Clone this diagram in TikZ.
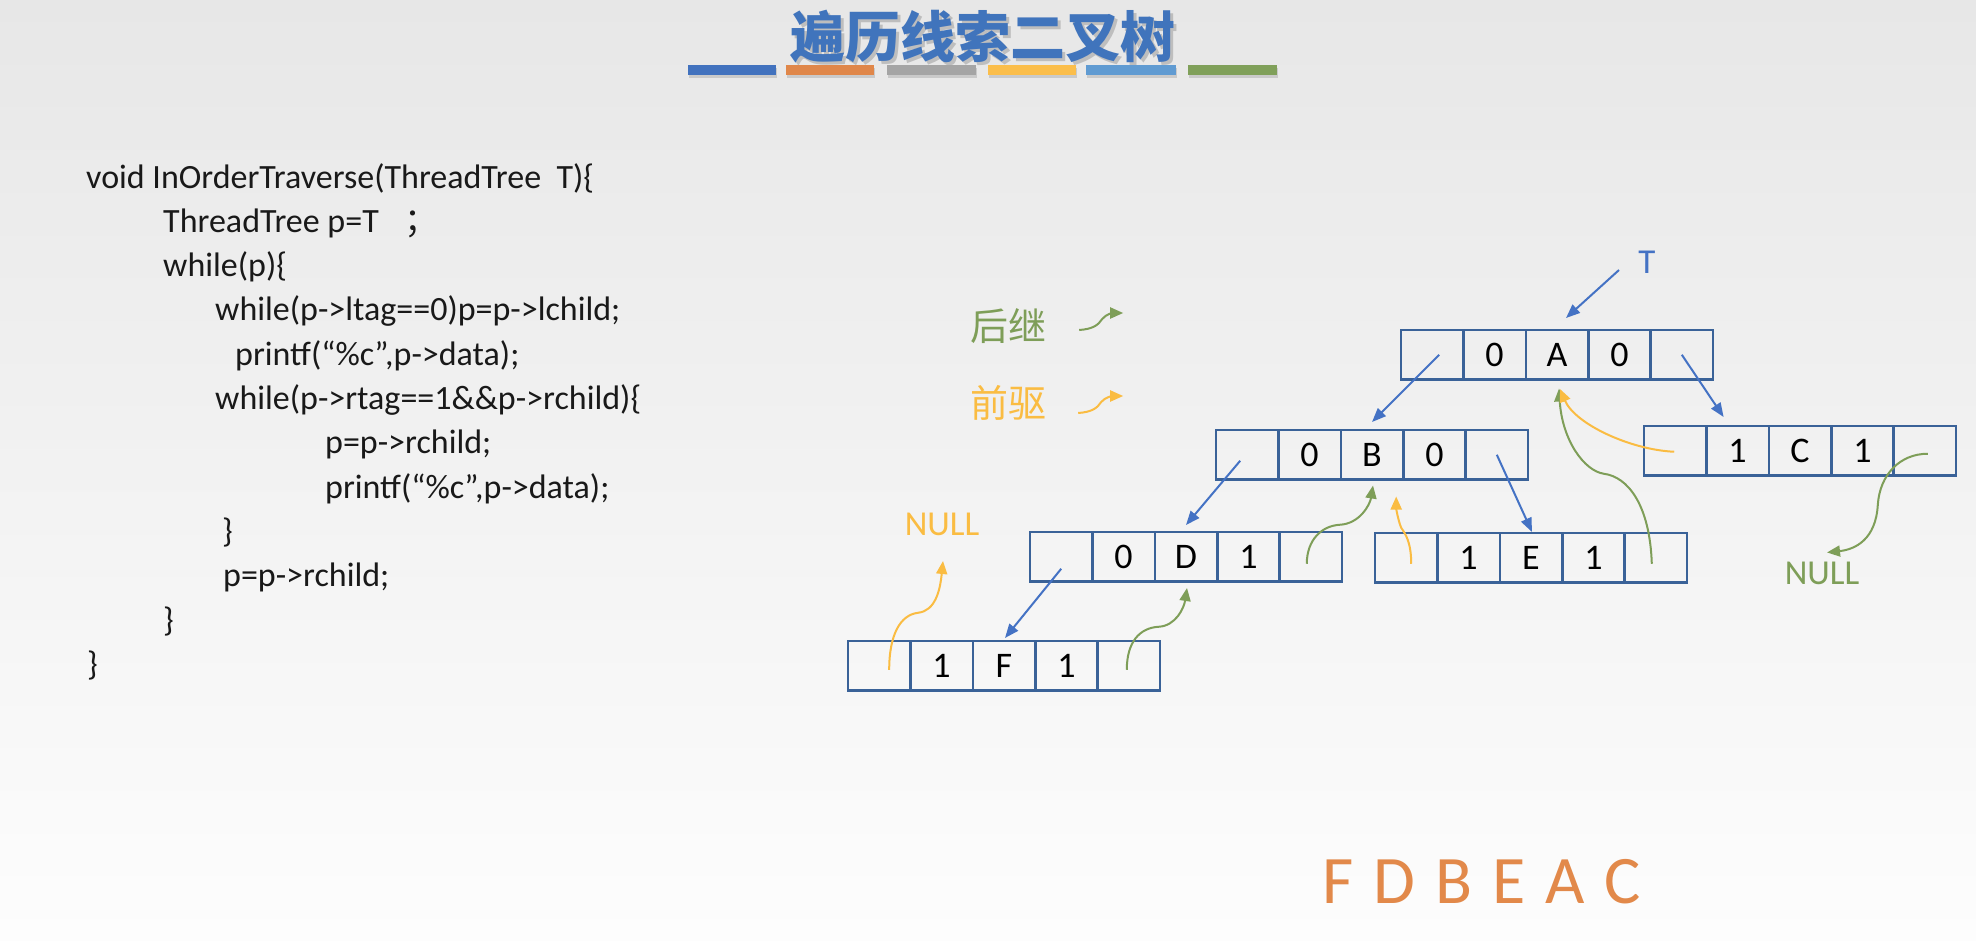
\documentclass[tikz,border=0pt]{standalone}
\usepackage{fontspec}
\setmainfont{Carlito}
\newfontfamily\cjk{Noto Sans CJK SC}
\usetikzlibrary{arrows.meta,calc}

\definecolor{titleblue}{RGB}{64,116,188}
\definecolor{boxblue}{RGB}{58,98,152}
\definecolor{arrblue}{RGB}{68,114,196}
\definecolor{sgreen}{RGB}{126,158,88}
\definecolor{pyellow}{RGB}{250,188,66}
\definecolor{orderorange}{RGB}{226,137,74}
\definecolor{codeblack}{RGB}{25,25,25}
\definecolor{bgtop}{RGB}{231,231,231}
\definecolor{bgmid}{RGB}{242,242,242}
\definecolor{bgbot}{RGB}{253,253,253}
\definecolor{barblue}{RGB}{66,114,190}
\definecolor{barorange}{RGB}{224,135,74}
\definecolor{bargray}{RGB}{165,165,165}
\definecolor{baryellow}{RGB}{251,190,75}
\definecolor{barlight}{RGB}{96,155,210}
\definecolor{bargreen}{RGB}{128,160,90}

\newcommand{\titlefnt}{\cjk\bfseries\fontsize{55}{60}\selectfont}

% one threaded-tree record: lchild | ltag | data | rtag | rchild
\newcommand{\mkrecord}[6]{%
  \node[cell,anchor=north west] (#1-1) at (#2,#3) {};
  \node[cell,anchor=west] (#1-2) at (#1-1.east) {#4};
  \node[cell,anchor=west] (#1-3) at (#1-2.east) {#5};
  \node[cell,anchor=west] (#1-4) at (#1-3.east) {#6};
  \node[cell,anchor=west] (#1-5) at (#1-4.east) {};
}

\begin{document}
\begin{tikzpicture}[x=1pt,y=-1pt,
  cell/.style={draw=boxblue,line width=2.6pt,minimum width=62.4pt,minimum height=49.5pt,
    inner sep=0pt,outer sep=0pt,text=black,font=\fontsize{36}{40}\selectfont},
  code/.style={anchor=base west,inner sep=0pt,text=codeblack,font=\fontsize{34}{40}\selectfont},
  lbl/.style={inner sep=0pt,font=\fontsize{35}{40}\selectfont},
  legend/.style={inner sep=0pt,font=\cjk\fontsize{38}{42}\selectfont},
  bluearr/.style={draw=arrblue,line width=2pt,-{Triangle[length=14pt,width=11pt]}},
  succ/.style={draw=sgreen,line width=2pt,-{Triangle[length=13pt,width=11pt]}},
  pred/.style={draw=pyellow,line width=2pt,-{Triangle[length=13pt,width=11pt]}},
  barshadow/.style={fill=black,opacity=.13}
]
\useasboundingbox (0,0) rectangle (1976,940);
\shade[top color=bgtop,bottom color=bgbot,middle color=bgmid] (0,0) rectangle (1976,940);

% heading
\node[text=black,opacity=.18,font=\titlefnt] (titleshadow) at (985.5,39.5) {遍历线索二叉树};
\node[text=titleblue,font=\titlefnt] (title) at (983,37) {遍历线索二叉树};

% colour bars under the heading
\foreach \xa/\xb/\c in {688/776/barblue,786/874/barorange,887/976/bargray,
                        988/1076/baryellow,1086/1176/barlight,1188/1277/bargreen}{
  \fill[barshadow] (\xa+1,68) rectangle (\xb+1,78);
  \fill[\c] (\xa,65) rectangle (\xb,75);
}

% source code
\node[code] (c1)  at (86,188)    {void InOrderTraverse(ThreadTree\ \ T)\{};
\node[code] (c2)  at (163,232.3) {ThreadTree p=T\hspace{26pt}{\cjk ；}};
\node[code] (c3)  at (163,276.6) {while(p)\{};
\node[code] (c4)  at (215,320.9) {while(p->ltag==0)p=p->lchild;};
\node[code] (c5)  at (235,365.2) {printf(“\%c”,p->data);};
\node[code] (c6)  at (215,409.5) {while(p->rtag==1\&\&p->rchild)\{};
\node[code] (c7)  at (325,453.8) {p=p->rchild;};
\node[code] (c8)  at (325,498.1) {printf(“\%c”,p->data);};
\node[code] (c9)  at (222,542.4) {\}};
\node[code] (c10) at (223,586.7) {p=p->rchild;};
\node[code] (c11) at (163,631)   {\}};
\node[code] (c12) at (87,675.3)  {\}};

% legend
\node[legend,text=sgreen]  (lg) at (1008,326) {后继};
\node[legend,text=pyellow] (ly) at (1008,403) {前驱};
\draw[succ] ($(lg.east)+(33,4)$) .. controls +(14,-1) and +(-4,6) .. ++(23,-11)
            .. controls +(4,-5) and +(-10,0) .. ++(21,-6);
\draw[pred] ($(ly.east)+(32,10)$) .. controls +(14,-1) and +(-4,6) .. ++(23,-11)
            .. controls +(4,-5) and +(-10,0) .. ++(22,-6);

% records
\mkrecord{A}{1401}{330}{0}{A}{0}
\mkrecord{B}{1216}{430}{0}{B}{0}
\mkrecord{C}{1644}{426}{1}{C}{1}
\mkrecord{D}{1030}{532}{0}{D}{1}
\mkrecord{E}{1375}{533}{1}{E}{1}
\mkrecord{F}{848}{641}{1}{F}{1}

% labels
\node[lbl,text=arrblue] (tlabel) at (1647,262) {T};
\node[lbl,text=pyellow] (nully) at (942,524) {NULL};
\node[lbl,text=sgreen]  (nullg) at (1822,573) {NULL};

% child pointers
\draw[bluearr] ($(tlabel.center)+(-28,8)$) -- ($(A-3.north)+(9,-12)$);
\draw[bluearr] ($(A-1.center)+(7,0)$) -- ($(B-3.north)+(0,-8)$);
\draw[bluearr] (A-5.center) -- ($(C-2.north)+(-14,-9)$);
\draw[bluearr] ($(B-1.center)+(-7,6)$) -- ($(D-3.north)+(0,-7)$);
\draw[bluearr] (B-5.center) -- ($(E-3.north)+(1,-1)$);
\draw[bluearr] ($(D-1.center)+(0,12)$) -- ($(F-3.north)+(1,-3)$);

% successor threads
\draw[succ] ($(F-5.center)+(-2,4)$) .. controls +(0,-28) and +(-19,1) .. ++(32,-43)
            .. controls +(17,-1) and +(-3,20) .. ($(D-3.south)+(1,6.5)$);
\draw[succ] ($(D-5.center)+(-4,7)$) .. controls +(0,-24) and +(-18,1) .. ++(33,-39)
            .. controls +(20,-1) and +(-3,19) .. ($(B-3.south)+(1,6)$);
\draw[succ] ($(E-5.center)+(-4,6)$) .. controls +(-2,-59) and +(24,3) .. ++(-48,-90)
            .. controls +(-20,-3) and +(3,51) .. ($(A-3.south)+(2,9)$);
\draw[succ] ($(C-5.center)+(3,3)$) .. controls +(-28,0) and +(2,-30) .. ++(-50,51)
            .. controls +(-2,35) and +(28,-3) .. ($(nullg.north)+(5,-9)$);

% predecessor threads
\draw[pred] ($(F-1.center)+(10,4)$) .. controls +(0,-35) and +(-18,2) .. ++(29,-57)
            .. controls +(17,-2) and +(-3,30) .. ($(nully.center)+(1,37)$);
\draw[pred] ($(E-1.center)+(5,6)$) .. controls +(0,-22) and +(4,6) .. ++(-10,-36)
            .. controls +(-3,-7) and +(0,12) .. ($(B-3.south east)+(-7,17)$);
\draw[pred] ($(C-1.center)+(-1,1)$) .. controls +(-44,-2) and +(15,35) .. ($(A-3.south)+(3,9.5)$);

% in-order result
\node[anchor=base west,inner sep=0pt,text=orderorange,font=\fontsize{68}{72}\selectfont]
  (order) at (1322,903) {\spaceskip=20pt\relax F D B E A C};
\end{tikzpicture}
\end{document}
